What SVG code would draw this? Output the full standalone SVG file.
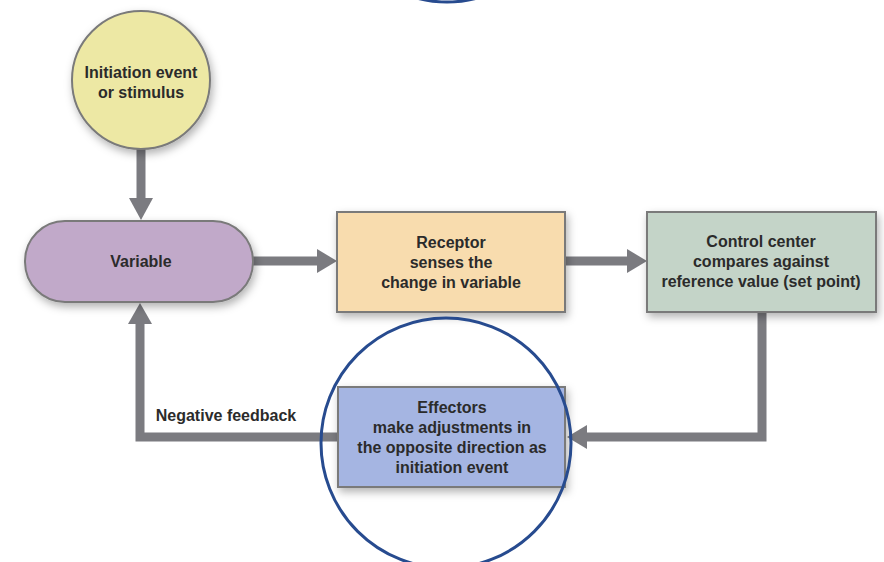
<svg xmlns="http://www.w3.org/2000/svg" width="884" height="562" viewBox="0 0 884 562">
<defs>
<filter id="sh" x="-20%" y="-20%" width="140%" height="150%">
<feDropShadow dx="2" dy="4" stdDeviation="4" flood-color="#000" flood-opacity="0.3"/>
</filter>
</defs>
<style>
.t{font-family:"Liberation Sans",Arial,sans-serif;font-weight:bold;font-size:16px;fill:#2b2b2b;text-anchor:middle}
.c{fill:none;stroke:#7b7b80;stroke-width:9}
.h{fill:#7b7b80}
.n{stroke:#7a7a7a;stroke-width:2}
.hl{fill:none;stroke:#274b8f;stroke-width:3}
</style>
<rect width="884" height="562" fill="#fff"/>
<g id="connectors">
<path class="c" d="M141,149 V200"/>
<polygon class="h" points="129,198 153,198 141,220"/>
<path class="c" d="M253,261 H319"/>
<polygon class="h" points="317,249 317,273 337,261"/>
<path class="c" d="M565,261 H629"/>
<polygon class="h" points="627,249 627,273 647,261"/>
<path class="c" d="M762,312 V437 H585"/>
<polygon class="h" points="587,425 587,449 567,437"/>
<path class="c" d="M338,437 H140 V322"/>
<polygon class="h" points="128,324 152,324 140,303"/>
<text class="t" x="226" y="421">Negative feedback</text>
</g>
<g id="initiation">
<circle class="n" cx="141" cy="80" r="69" fill="#ede8a4" filter="url(#sh)"/>
<text class="t" x="141" y="78">Initiation event</text>
<text class="t" x="141" y="98">or stimulus</text>
</g>
<g id="variable">
<rect class="n" x="25" y="221" width="228" height="81" rx="40" fill="#c1a9c9" filter="url(#sh)"/>
<text class="t" x="141" y="267">Variable</text>
</g>
<g id="receptor">
<rect class="n" x="337" y="212" width="228" height="100" fill="#f8dcae" filter="url(#sh)"/>
<text class="t" x="451" y="248">Receptor</text>
<text class="t" x="451" y="268">senses the</text>
<text class="t" x="451" y="288">change in variable</text>
</g>
<g id="control">
<rect class="n" x="647" y="212" width="229" height="100" fill="#c4d4c8" filter="url(#sh)"/>
<text class="t" x="761" y="247">Control center</text>
<text class="t" x="761" y="267">compares against</text>
<text class="t" x="761" y="287">reference value (set point)</text>
</g>
<g id="effectors">
<rect class="n" x="338" y="387" width="227" height="100" fill="#a5b5e2" filter="url(#sh)"/>
<text class="t" x="452" y="413">Effectors</text>
<text class="t" x="452" y="433">make adjustments in</text>
<text class="t" x="452" y="453">the opposite direction as</text>
<text class="t" x="452" y="473">initiation event</text>
</g>
<g id="highlights">
<circle class="hl" cx="446" cy="443" r="125"/>
<circle class="hl" cx="447" cy="-116" r="118"/>
</g>
</svg>
